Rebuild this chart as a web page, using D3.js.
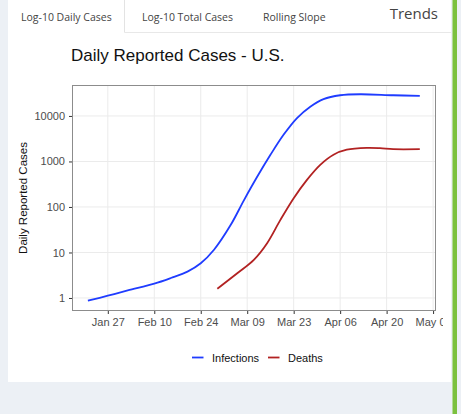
<!DOCTYPE html>
<html><head><meta charset="utf-8">
<script src="https://cdn.jsdelivr.net/npm/d3@7"></script>
<style>
html,body{margin:0;padding:0;background:#ecf0f5;}
svg{display:block;}
</style></head>
<body>
<svg id="c" width="461" height="414"></svg>
<script>
// ---- data ----
const infectionDates = ["2020-01-21","2020-01-27","2020-02-02","2020-02-10","2020-02-15","2020-02-20","2020-02-24","2020-02-28","2020-03-04","2020-03-08","2020-03-12","2020-03-16","2020-03-20","2020-03-24","2020-03-28","2020-04-01","2020-04-06","2020-04-12","2020-04-22","2020-04-30"];
const infectionValues = [0.87,1.12,1.47,2.07,2.75,3.8,5.8,11.5,40,140,460,1400,3900,9000,16000,23500,28500,30000,28500,27600];
const deathDates = ["2020-02-29","2020-03-06","2020-03-11","2020-03-15","2020-03-19","2020-03-23","2020-03-27","2020-03-31","2020-04-04","2020-04-08","2020-04-14","2020-04-18","2020-04-22","2020-04-30"];
const deathValues = [1.6,3.5,6.9,16,52,156,395,845,1410,1810,1990,1960,1860,1860];
const yTicks = [1,10,100,1000,10000];
const xTickDates = ["2020-01-27","2020-02-10","2020-02-24","2020-03-09","2020-03-23","2020-04-06","2020-04-20","2020-05-04"];
const xTickLabels = ["Jan 27","Feb 10","Feb 24","Mar 09","Mar 23","Apr 06","Apr 20","May 04"];
const seriesNames = ["Infections","Deaths"];
const seriesColors = ["#1f3cff","#b22222"];
const tabLabels = ["Log-10 Daily Cases","Log-10 Total Cases","Rolling Slope"];

(function(){
const parse = d3.utcParse("%Y-%m-%d");
const svg = d3.select("#c");

// page chrome
svg.append("rect").attr("x",0).attr("y",0).attr("width",461).attr("height",414).attr("fill","#ecf0f5");
svg.append("rect").attr("x",8).attr("y",0).attr("width",443).attr("height",382).attr("fill","#ffffff");
svg.append("rect").attr("x",452.5).attr("y",0).attr("width",4.5).attr("height",414).attr("fill","#7cc13f");

// tabs
svg.append("line").attr("x1",124.5).attr("x2",124.5).attr("y1",0).attr("y2",32.5).attr("stroke","#e3e3e3");
svg.append("line").attr("x1",124.5).attr("x2",451).attr("y1",32.5).attr("y2",32.5).attr("stroke","#e8e8e8");
const tabX = [21,142,263];
tabLabels.forEach((t,i)=>{
  svg.append("text").attr("x",tabX[i]).attr("y",21).text(t)
    .attr("font-family","Open Sans, Lato, sans-serif").attr("font-size",10.5).attr("fill","#444");
});
svg.append("text").attr("x",438).attr("y",19).attr("text-anchor","end").text("Trends")
  .attr("font-family","Open Sans, Lato, sans-serif").attr("font-size",15).attr("fill","#444");

// chart
const x = d3.scaleUtc().domain([parse("2020-01-16"),parse("2020-05-05")]).range([71.3,436.4]);
const y = d3.scaleLog().domain([Math.pow(10,-0.286),Math.pow(10,4.68)]).range([311,85]);
const pL=72, pR=436, pT=85, pB=311;

svg.append("text").attr("x",71).attr("y",61).text("Daily Reported Cases - U.S.")
  .attr("font-family","Liberation Sans, Arial, sans-serif").attr("font-size",17).attr("fill","#111");

const grid = svg.append("g");
yTicks.forEach(v=>{
  grid.append("line").attr("x1",pL).attr("x2",pR).attr("y1",y(v)).attr("y2",y(v)).attr("stroke","#ebebeb").attr("stroke-width",1);
});
xTickDates.forEach(d=>{
  const px = x(parse(d));
  if(px<=pR) grid.append("line").attr("x1",px).attr("x2",px).attr("y1",pT).attr("y2",pB).attr("stroke","#ebebeb").attr("stroke-width",1);
});

// clip for chart image width
svg.append("clipPath").attr("id","imgclip").append("rect").attr("x",0).attr("y",0).attr("width",443).attr("height",414);

// axes
const xAxis = d3.axisBottom(x).tickValues(xTickDates.map(parse)).tickFormat((d,i)=>xTickLabels[i]).tickSize(3).tickPadding(4);
const gx = svg.append("g").attr("clip-path","url(#imgclip)").append("g").attr("transform",`translate(0,${pB})`).call(xAxis);
gx.select(".domain").remove();
gx.selectAll("line").attr("stroke","#333");
gx.selectAll("text").attr("font-family","Liberation Sans, Arial, sans-serif").attr("font-size",11).attr("fill","#4d4d4d");

const yAxis = d3.axisLeft(y).tickValues(yTicks).tickFormat(d3.format("d")).tickSize(3).tickPadding(4);
const gy = svg.append("g").attr("transform",`translate(${pL},0)`).call(yAxis);
gy.select(".domain").remove();
gy.selectAll("line").attr("stroke","#333");
gy.selectAll("text").attr("font-family","Liberation Sans, Arial, sans-serif").attr("font-size",11).attr("fill","#4d4d4d");

svg.append("text").attr("transform",`translate(27,198) rotate(-90)`).attr("text-anchor","middle")
  .text("Daily Reported Cases").attr("font-family","Liberation Sans, Arial, sans-serif").attr("font-size",11.5).attr("fill","#111");

// clip & lines
svg.append("clipPath").attr("id","clp").append("rect").attr("x",pL).attr("y",pT).attr("width",pR-pL).attr("height",pB-pT);
const line = d3.line().x(d=>x(d[0])).y(d=>y(d[1])).curve(d3.curveCatmullRom.alpha(0.5));
const series = [
  infectionDates.map((d,i)=>[parse(d),infectionValues[i]]),
  deathDates.map((d,i)=>[parse(d),deathValues[i]])
];
series.forEach((s,i)=>{
  svg.append("path").attr("d",line(s)).attr("fill","none").attr("stroke",seriesColors[i]).attr("stroke-width",1.8).attr("clip-path","url(#clp)");
});

// panel border
svg.append("rect").attr("x",pL+0.5).attr("y",pT+0.5).attr("width",pR-pL-1).attr("height",pB-pT-1)
  .attr("fill","none").attr("stroke","#8c8c8c").attr("stroke-width",1);

// legend
const legX = [192,268], legTX = [212,288];
seriesNames.forEach((n,i)=>{
  svg.append("line").attr("x1",legX[i]).attr("x2",legX[i]+11.5).attr("y1",357.5).attr("y2",357.5).attr("stroke",seriesColors[i]).attr("stroke-width",1.8);
  svg.append("text").attr("x",legTX[i]).attr("y",361.5).text(n).attr("font-family","Liberation Sans, Arial, sans-serif").attr("font-size",11).attr("fill","#111");
});
})();
</script>
</body></html>
